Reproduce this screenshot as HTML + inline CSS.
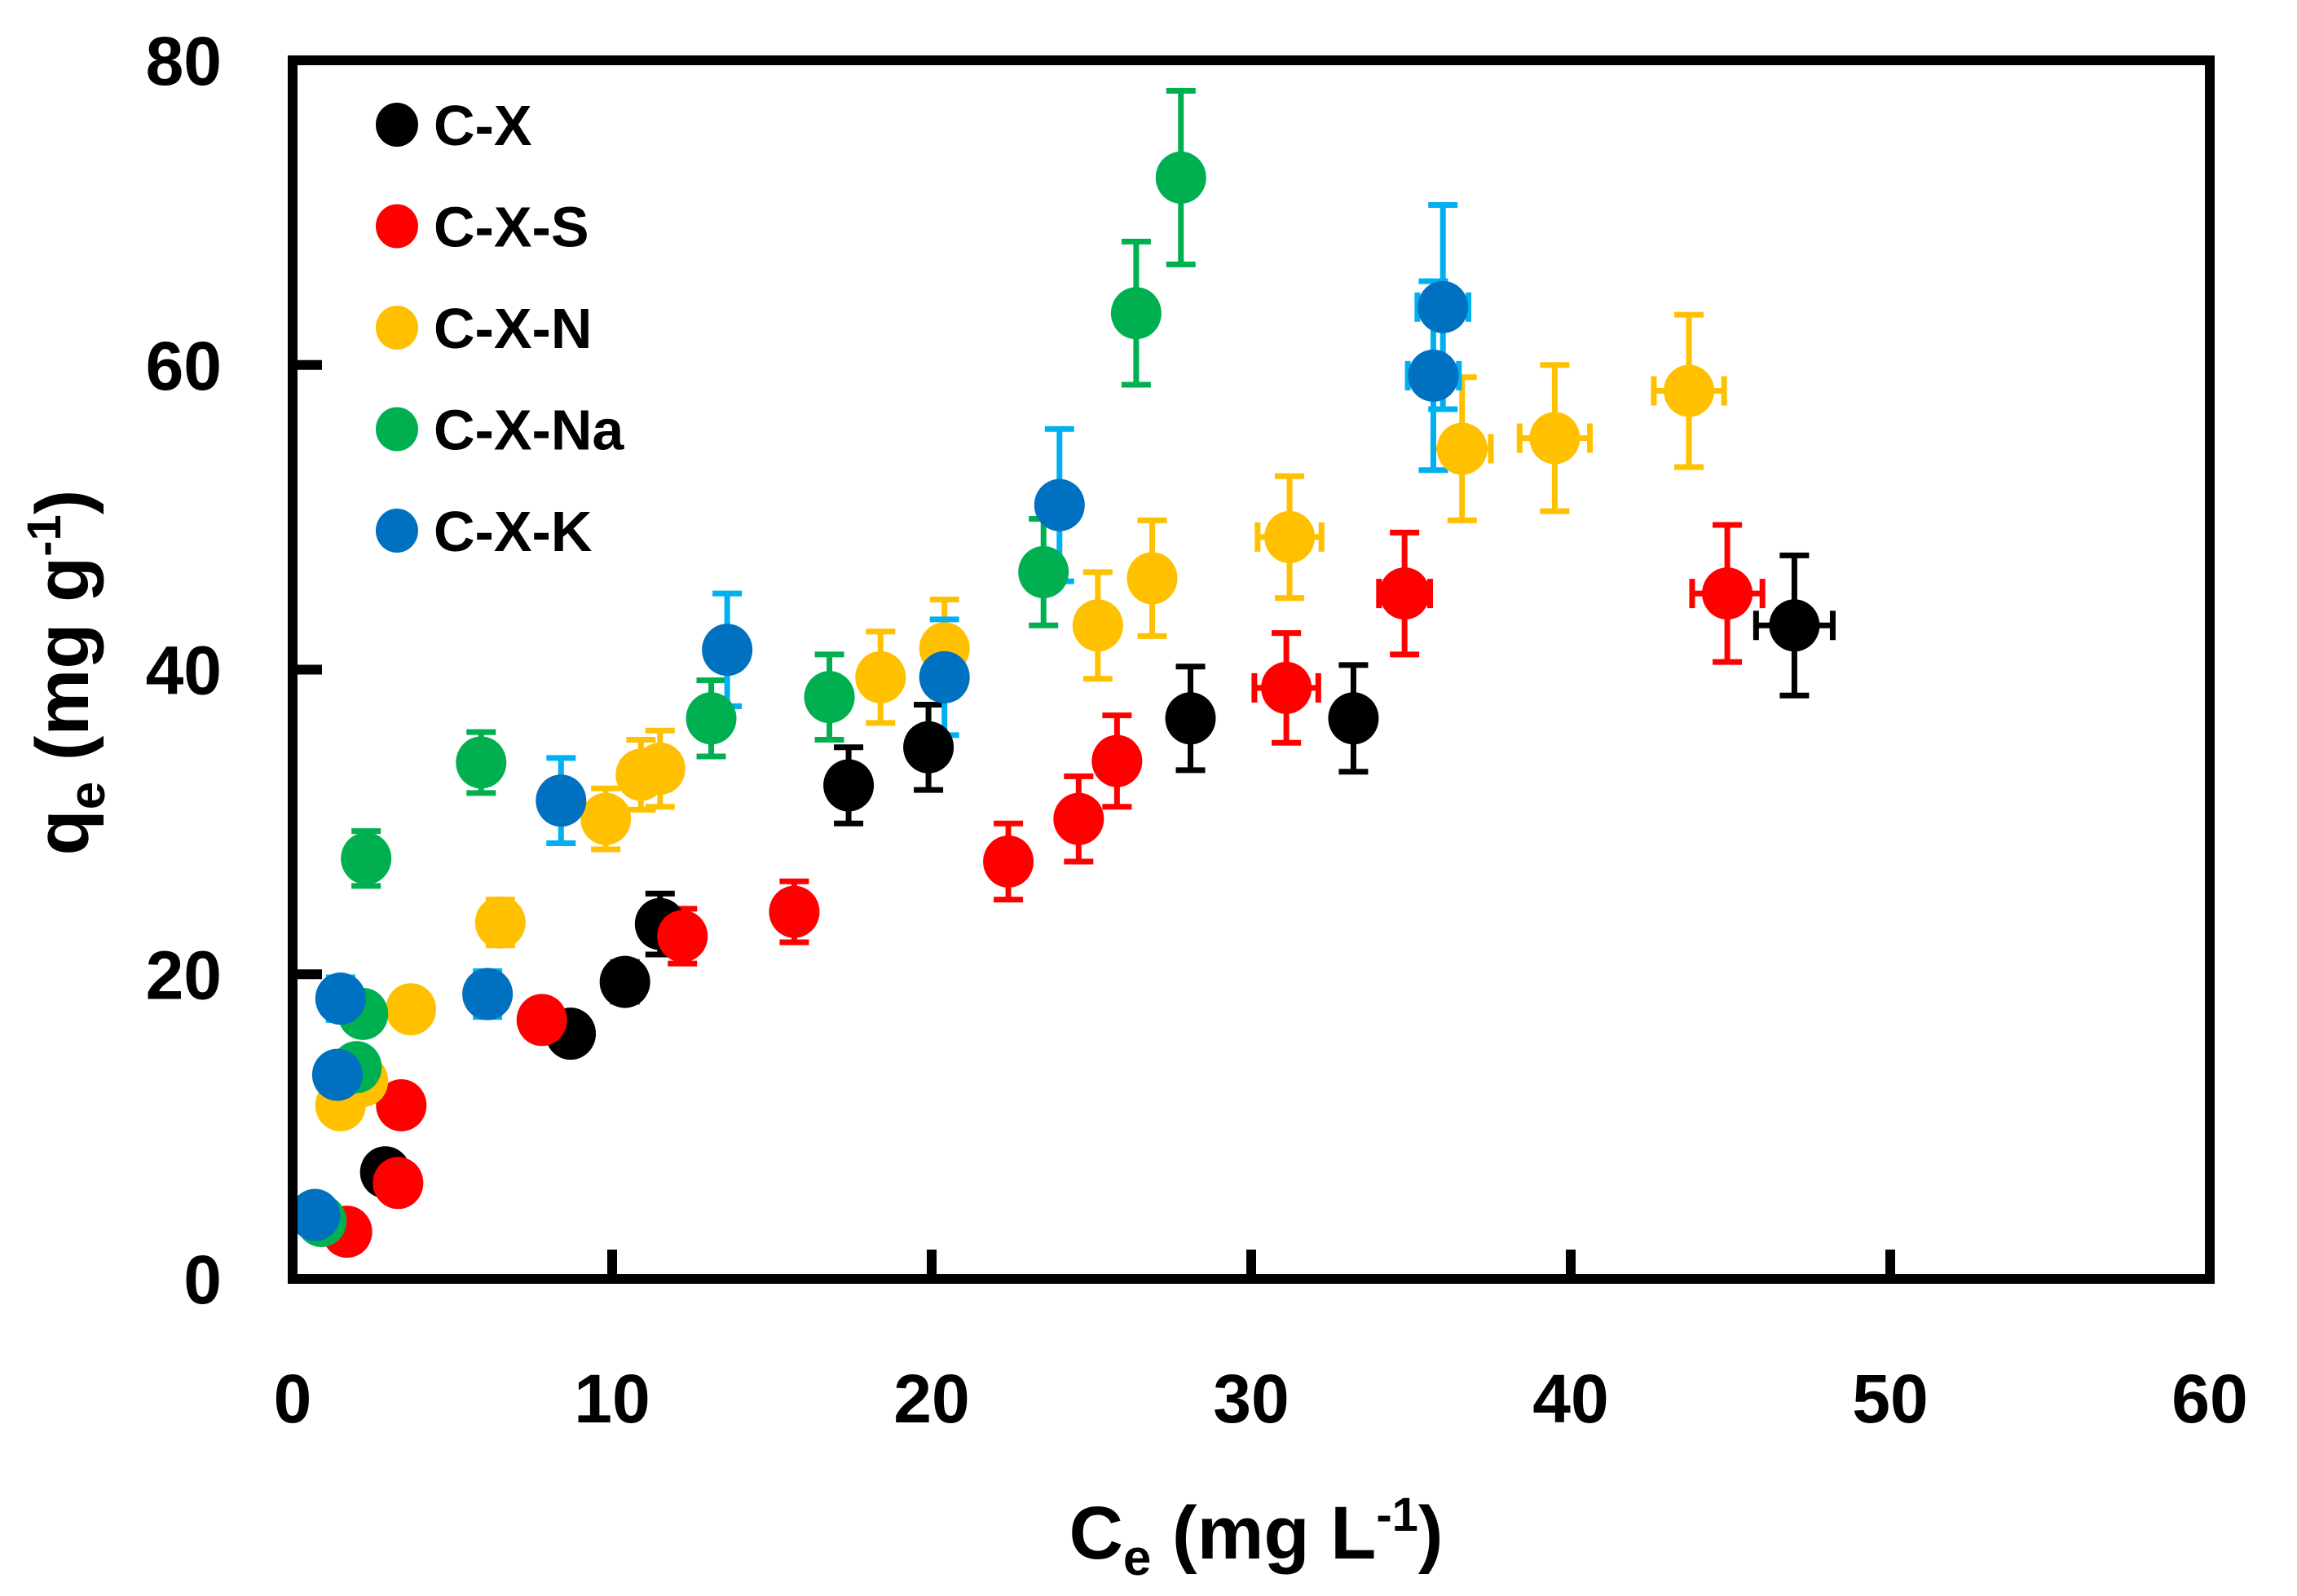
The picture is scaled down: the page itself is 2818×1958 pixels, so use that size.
<!DOCTYPE html>
<html><head><meta charset="utf-8"><style>
html,body{margin:0;padding:0;background:#fff;}
svg{display:block;font-family:"Liberation Sans",sans-serif;font-weight:bold;}
</style></head><body>
<svg id="chart" width="2818" height="1958" viewBox="0 0 2818 1958" xmlns="http://www.w3.org/2000/svg">
<g id="errs"></g>
<g id="marks"></g>
<rect x="359" y="74" width="2352" height="1495" fill="none" stroke="#000" stroke-width="12"/>
<g id="axes"></g>
<g id="legend"></g>
<text x="1541" y="1912" font-size="92" text-anchor="middle">C<tspan font-size="62" dy="20">e</tspan><tspan dy="-20"> (mg L</tspan><tspan font-size="58" dy="-34">-1</tspan><tspan dy="34">)</tspan></text>
<text transform="translate(108,825) rotate(-90)" font-size="92" text-anchor="middle">q<tspan font-size="62" dy="20">e</tspan><tspan dy="-20"> (mg g</tspan><tspan font-size="58" dy="-34">-1</tspan><tspan dy="34">)</tspan></text>
</svg>
<script>
const xTicks=[0,10,20,30,40,50,60];
const yTicks=[0,20,40,60,80];
const seriesNames=["C-X","C-X-S","C-X-N","C-X-Na","C-X-K"];
const cxX=[2.9,8.7,10.4,11.5,17.4,19.9,28.1,33.2,47.0];
const cxY=[7.0,16.1,19.5,23.3,32.4,34.9,36.8,36.8,42.9];
const cxYe=[0.6,1.0,1.3,2.0,2.5,2.8,3.4,3.5,4.6];
const cxXe=[0,0,0,0,0,0,0,0,1.2];
const csX=[1.7,3.3,3.4,7.8,12.2,15.7,22.4,24.6,25.8,31.1,34.8,44.9];
const csY=[3.1,6.3,11.4,17.0,22.5,24.1,27.4,30.2,34.0,38.8,45.0,45.0];
const csYe=[0.3,0.5,0.8,1.2,1.8,2.0,2.5,2.8,3.0,3.6,4.0,4.5];
const csXe=[0,0,0,0,0,0,0,0,0,1.0,0.8,1.1];
const cnX=[1.5,2.2,3.7,6.5,9.8,10.9,11.5,18.4,20.4,25.2,26.9,31.2,36.6,39.5,43.7];
const cnY=[11.4,13.0,17.7,23.4,30.2,33.1,33.5,39.5,41.4,42.9,46.0,48.7,54.5,55.2,58.3];
const cnYe=[0.8,1.0,1.2,1.5,2.0,2.3,2.5,3.0,3.2,3.5,3.8,4.0,4.7,4.8,5.0];
const cnXe=[0,0,0,0,0,0,0,0,0,0,0,1.0,0.9,1.1,1.1];
const cnaX=[0.9,2.0,2.2,2.3,5.9,13.1,16.8,23.5,26.4,27.8];
const cnaY=[3.8,13.9,17.4,27.6,33.9,36.8,38.2,46.4,63.4,72.3];
const cnaYe=[0.3,0.8,1.0,1.8,2.0,2.5,2.8,3.5,4.7,5.7];
const cnaXe=[0,0,0,0,0,0,0,0,0,0];
const ckX=[0.7,1.4,1.5,6.1,8.4,13.6,20.4,24.0,35.7,36.0];
const ckY=[4.2,13.4,18.4,18.7,31.4,41.3,39.5,50.8,59.3,63.8];
const ckYe=[0.3,0.8,1.4,1.5,2.8,3.7,3.8,5.0,6.2,6.7];
const ckXe=[0,0,0,0,0,0,0,0,0.8,0.8];
const markColors=["#000000","#ff0000","#ffc000","#00b050","#0070c0"];
const errColors=["#000000","#ff0000","#ffc000","#00b050","#00b0f0"];
const NS="http://www.w3.org/2000/svg";
const X=v=>359+v*(2711-359)/60;
const Y=v=>1569-v*(1569-74)/80;
function mk(tag,attrs,parent){const e=document.createElementNS(NS,tag);for(const k in attrs)e.setAttribute(k,attrs[k]);parent.appendChild(e);return e;}
const axes=document.getElementById('axes');
xTicks.forEach(t=>{
  const l=mk('line',{x1:X(t),x2:X(t),y1:1569,y2:1533,stroke:'#000','stroke-width':12},axes);
  
  
  const tx=mk('text',{x:X(t),y:1745,'font-size':84,'text-anchor':'middle'},axes);
  tx.textContent=t;
  
  
});
yTicks.forEach(t=>{
  const l=mk('line',{x1:359,x2:395,y1:Y(t),y2:Y(t),stroke:'#000','stroke-width':12},axes);
  
  
  const tx=mk('text',{x:272,y:Y(t)+30,'font-size':84,'text-anchor':'end'},axes);
  tx.textContent=t;
  
  
});
const all=[[cxX,cxY,cxYe,cxXe],[csX,csY,csYe,csXe],[cnX,cnY,cnYe,cnXe],[cnaX,cnaY,cnaYe,cnaXe],[ckX,ckY,ckYe,ckXe]];
const errs=document.getElementById('errs'),marks=document.getElementById('marks');
all.forEach((s,si)=>{
  const [xs,ys,ye,xe]=s;
  xs.forEach((xv,i)=>{
    const cx=X(xv),cy=Y(ys[i]);
    const g=mk('g',{stroke:errColors[si],'stroke-width':7},errs);
    
    
    if(ye[i]>0){
      const y1=Y(ys[i]+ye[i]),y2=Y(ys[i]-ye[i]);
      mk('line',{x1:cx,x2:cx,y1:y1,y2:y2},g);
      mk('line',{x1:cx-18,x2:cx+18,y1:y1,y2:y1},g);
      mk('line',{x1:cx-18,x2:cx+18,y1:y2,y2:y2},g);
    }
    if(xe[i]>0){
      const x1=X(xv-xe[i]),x2=X(xv+xe[i]);
      mk('line',{x1:x1,x2:x2,y1:cy,y2:cy},g);
      mk('line',{x1:x1,x2:x1,y1:cy-18,y2:cy+18},g);
      mk('line',{x1:x2,x2:x2,y1:cy-18,y2:cy+18},g);
    }
    const e=mk('ellipse',{cx:cx,cy:cy,rx:31,ry:32,fill:markColors[si]},marks);
    
    
  });
});
const leg=document.getElementById('legend');
seriesNames.forEach((n,i)=>{
  const y=153+i*124.5;
  const c=mk('ellipse',{cx:487,cy:y,rx:26,ry:27,fill:markColors[i]},leg);
  
  
  const t=mk('text',{x:532,y:y+25,'font-size':70},leg);
  t.textContent=n;
  
  
});
</script>
</body></html>
